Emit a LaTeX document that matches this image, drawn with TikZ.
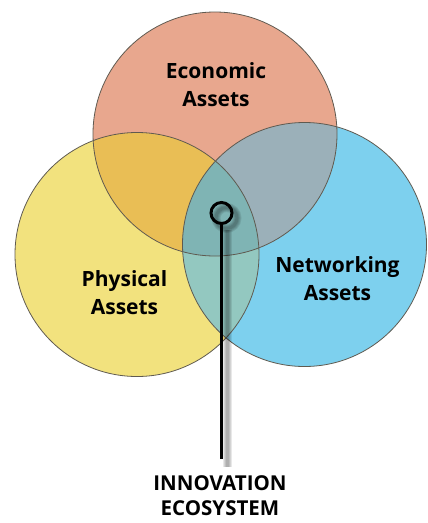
\documentclass[tikz,border=0pt]{standalone}
\usepackage{fontspec}
\setmainfont{Open Sans}
\usepackage{xcolor}
\definecolor{econ}{RGB}{232,167,142}
\definecolor{phys}{RGB}{242,226,126}
\definecolor{netw}{RGB}{125,208,238}
\definecolor{econphys}{RGB}{233,190,85}
\definecolor{econnetw}{RGB}{155,176,185}
\definecolor{physnetw}{RGB}{147,200,192}
\definecolor{allthree}{RGB}{127,180,180}
\definecolor{rim}{RGB}{95,90,80}
\usetikzlibrary{calc}

\begin{document}
\begin{tikzpicture}[x=1pt, y=-1pt,
    lbl/.style={align=center, font=\bfseries\fontsize{21}{28}\selectfont},
    rimline/.style={draw=rim, line width=0.8pt}]
      \useasboundingbox (0,0) rectangle (428,523);
      \coordinate (E) at (215, 134);
      \coordinate (P) at (137, 254.5);
      \coordinate (N) at (304.5, 244.5);
      \coordinate (H) at (221.5, 213);
      \coordinate (stem) at (221.5, 459);

      \fill[phys] (P) circle (122pt);
      \fill[netw] (N) circle (122pt);
      \fill[econ] (E) circle (122pt);
      \begin{scope}
        \clip (E) circle (122pt);
        \fill[econphys] (P) circle (122pt);
        \fill[econnetw] (N) circle (122pt);
      \end{scope}
      \begin{scope}
        \clip (P) circle (122pt);
        \fill[physnetw] (N) circle (122pt);
        \clip (E) circle (122pt);
        \fill[allthree] (N) circle (122pt);
      \end{scope}
      \draw[rimline] (P) circle (122pt);
      \draw[rimline] (N) circle (122pt);
      \draw[rimline] (E) circle (122pt);

      \node[lbl] (econlbl) at (216, 85) {Economic\\Assets};
      \node[lbl] (physlbl) at (124.5, 292.5) {Physical\\Assets};
      \node[lbl] (netwlbl) at (337.5, 279) {Networking\\Assets};
      \node[lbl, font=\bfseries\fontsize{20.5}{25}\selectfont] (ecolbl) at (220, 495.5) {INNOVATION\\ECOSYSTEM};

      \foreach \w in {9, 7, 5, 3} {
        \draw[black, line width=\w pt, opacity=0.09] ($(H)+(5,5)$) circle (10.5pt);
        \draw[black, line width=\w pt, opacity=0.09] ($(H)+(6,17)$) -- ($(stem)+(6,8)$);
      }
      \node[circle, draw, line width=3pt, minimum size=21pt, inner sep=0pt] (hub) at (H) {};
      \draw[line width=3pt] (hub) -- (stem);
    \end{tikzpicture}
\end{document}
